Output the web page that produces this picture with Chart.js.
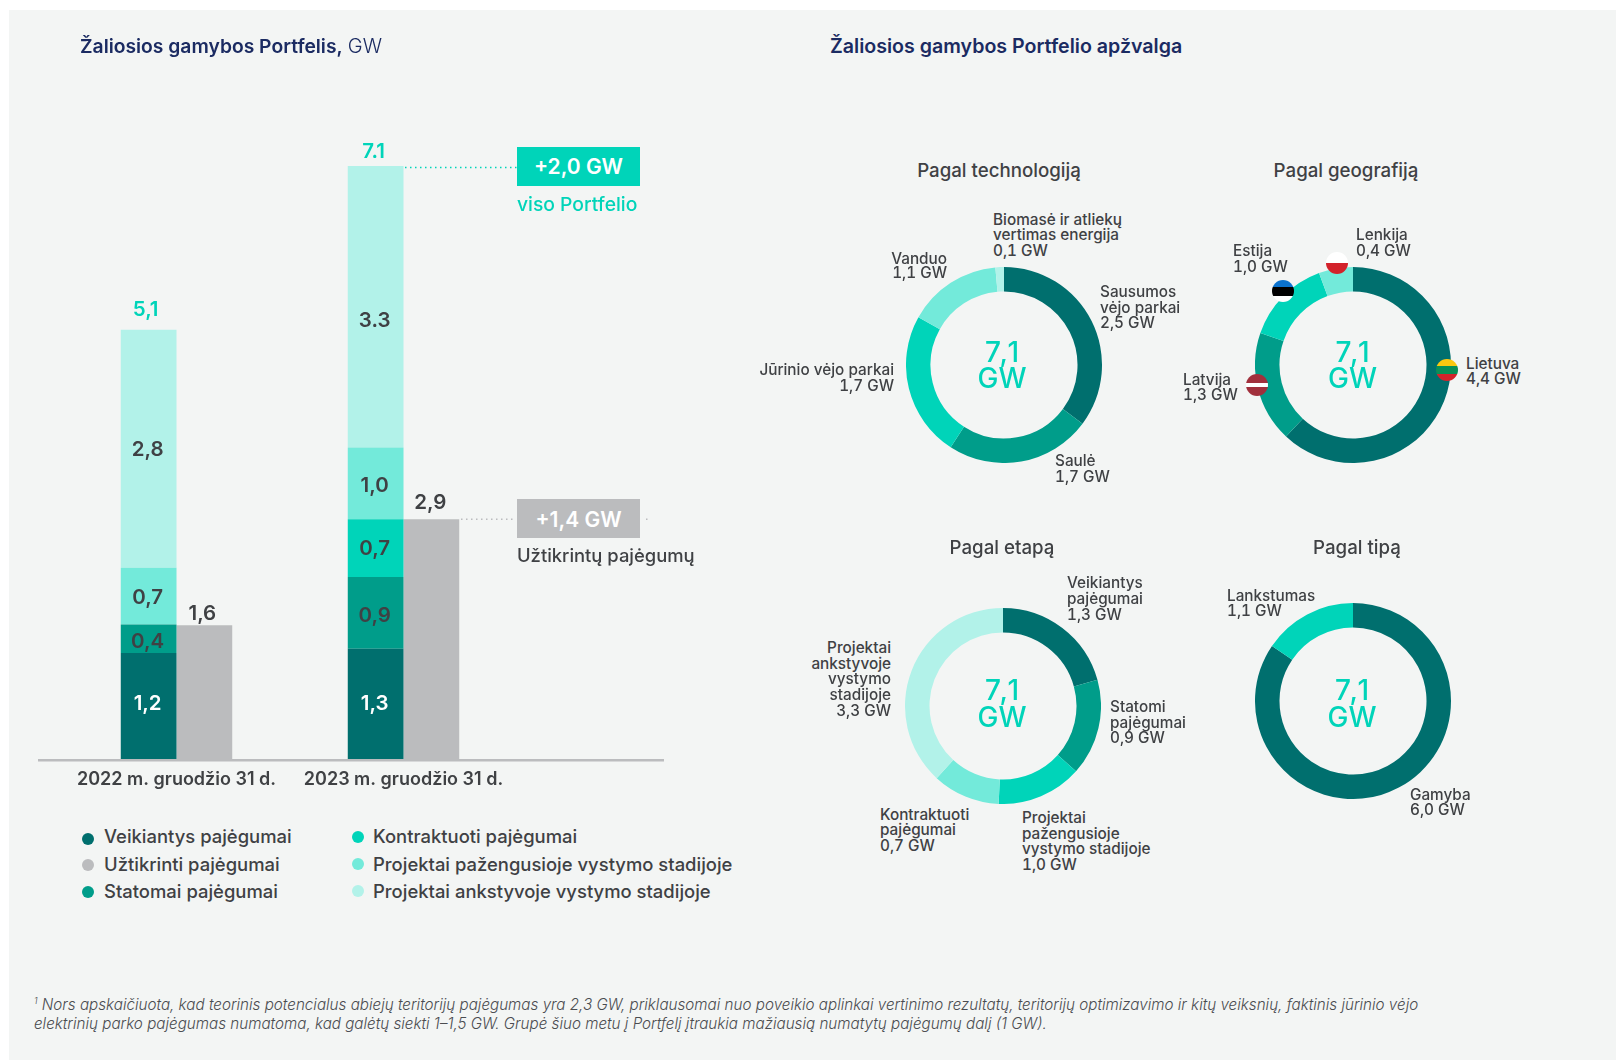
<!DOCTYPE html>
<html lang="lt">
<head>
<meta charset="utf-8">
<title>Žaliosios gamybos Portfelis</title>
<script src="https://cdn.jsdelivr.net/npm/chart.js@4/dist/chart.umd.min.js"></script>
<style>
html,body{margin:0;padding:0;background:#fff;width:1616px;height:1061px;overflow:hidden}
#panel{position:absolute;left:9px;top:10px;width:1607px;height:1050px;background:#F3F5F4}
#stage{position:absolute;left:0;top:0;width:1616px;height:1061px;font-family:Inter,sans-serif;color:#3F4144}
canvas{position:absolute}
.t{position:absolute;white-space:nowrap;line-height:20px;height:20px}
.dot{position:absolute;width:12px;height:12px;border-radius:50%}
.box{position:absolute;display:flex;align-items:center;justify-content:center;color:#fff;font-weight:600;font-size:21px;box-sizing:border-box}
.flag{position:absolute;width:22px;height:22px;border-radius:50%}
sup{font-size:9px;line-height:0}
</style>
</head>
<body>
<div id="panel"></div>
<div id="stage"></div>
<script>
// ---- Bar chart: categories, segment lengths as drawn, and the numbers printed on them
const periods = ["2022 m. gruodžio 31 d.", "2023 m. gruodžio 31 d."];
const seriesNames = ["Veikiantys pajėgumai","Užtikrinti pajėgumai","Statomai pajėgumai","Kontraktuoti pajėgumai","Projektai pažengusioje vystymo stadijoje","Projektai ankstyvoje vystymo stadijoje"];
const operating  = [1.27, 1.32];
const secured    = [1.60, 2.87];
const building   = [0.34, 0.86];
const contracted = [0,    0.69];
const advanced   = [0.68, 0.86];
const early      = [2.85, 3.37];
const operatingLabels  = ["1,2","1,3"];
const securedLabels    = ["1,6","2,9"];
const buildingLabels   = ["0,4","0,9"];
const contractedLabels = ["","0,7"];
const advancedLabels   = ["0,7","1,0"];
const earlyLabels      = ["2,8","3.3"];
const totalLabels      = ["5,1","7.1"];

// ---- Doughnuts
const techNames   = ["Sausumos vėjo parkai","Saulė","Jūrinio vėjo parkai","Vanduo","Biomasė ir atliekų vertimas energija"];
const techValues  = [2.5,1.7,1.7,1.1,0.1];
const geoNames    = ["Lietuva","Latvija","Estija","Lenkija"];
const geoValues   = [4.4,1.3,1.0,0.4];
const stageNames  = ["Veikiantys pajėgumai","Statomi pajėgumai","Projektai pažengusioje vystymo stadijoje","Kontraktuoti pajėgumai","Projektai ankstyvoje vystymo stadijoje"];
const stageValues = [1.47,1.13,1.0,0.79,2.71]; // arc lengths as drawn
const typeNames   = ["Gamyba","Lankstumas"];
const typeValues  = [6.0,1.1];

// ---- Colours
const DARK="#006F6E", MID="#009D8A", TEAL="#00D4B9", LIGHT="#73EADA", PALE="#B2F2E9", GREY="#BBBCBE", NAVY="#1B2B62", INK="#3F4144";
const FONT="Inter, sans-serif";
const stage=document.getElementById("stage");

function text(str,x,y,o={}){
  const d=document.createElement("div");d.className="t";
  d.innerHTML=str;
  d.style.left=x+"px";d.style.top=(y-10)+"px";
  d.style.fontSize=(o.size||15)+"px";
  d.style.fontWeight=o.weight||500;
  d.style.color=o.color||INK;
  if(o.spacing)d.style.letterSpacing=o.spacing+"px";
  if(o.italic)d.style.fontStyle="italic";
  if(o.tnum)d.style.fontFeatureSettings='"tnum"';
  if(o.align==="center")d.style.transform="translateX(-50%)";
  if(o.align==="right")d.style.transform="translateX(-100%)";
  stage.appendChild(d);
}
function lines(arr,x,ys,o){arr.forEach((s,i)=>text(s,x,ys[i],o));}

// ---- Bar chart
const c=document.createElement("canvas");
c.width=760;c.height=800;c.style.left="0px";c.style.top="0px";c.style.width="760px";c.style.height="800px";
stage.appendChild(c);
const labelNudge={ "earlyLabels1":14, "operatingLabels0":-2, "operatingLabels1":0, "buildingLabels0":3, "buildingLabels1":3, "advancedLabels1":2, "advancedLabels0":2, "contractedLabels1":1, "earlyLabels0":1 };
const barPlugin={
  id:"barAnnotations",
  afterDatasetsDraw(ch){
    const g=ch.ctx,y0=ch.scales.y.getPixelForValue(0);
    g.save();
    g.fillStyle=GREY;g.fillRect(38,y0,626,2.5);
    g.lineWidth=1.5;g.setLineDash([1.5,3.5]);
    const yT=ch.scales.y.getPixelForValue(7.1)+1.5;
    g.strokeStyle=TEAL;g.beginPath();g.moveTo(405,yT);g.lineTo(517,yT);g.stroke();
    const yS=ch.scales.y.getPixelForValue(secured[1]);
    g.strokeStyle=GREY;g.beginPath();g.moveTo(461,yS);g.lineTo(515,yS);g.moveTo(646,yS);g.lineTo(648,yS);g.stroke();
    g.setLineDash([]);
    g.textAlign="center";g.textBaseline="middle";
    ch.data.datasets.forEach((ds,i)=>{
      const meta=ch.getDatasetMeta(i);
      meta.data.forEach((el,j)=>{
        const s=ds.printed[j];if(!s)return;
        const p=el.getProps(["x","y","base"],true);
        g.font="600 20.5px "+FONT;
        g.fillStyle=ds.labelColor;
        if(ds.stack==="secured") g.fillText(s,p.x+(j?-1:-2),p.y-(j?16:12));
        else g.fillText(s,p.x-1,(p.y+p.base)/2+(labelNudge[ds.printedKey+j]||0));
        if(ds.printedKey==="earlyLabels"){
          g.fillStyle=TEAL;g.fillText(totalLabels[j],p.x-(j?2:3),p.y-(j?14:20));
        }
      });
    });
    g.restore();
  }
};
function barDs(label,data,color,stackName,printed,key,labelColor){
  return {label,data,backgroundColor:color,stack:stackName,printed,printedKey:key,labelColor,borderWidth:0,categoryPercentage:0.491,barPercentage:1};
}
new Chart(c,{
  type:"bar",
  data:{labels:periods,datasets:[
    barDs(seriesNames[0],operating,DARK,"portfolio",operatingLabels,"operatingLabels","#FFFFFF"),
    barDs(seriesNames[2],building,MID,"portfolio",buildingLabels,"buildingLabels",INK),
    barDs(seriesNames[3],contracted,TEAL,"portfolio",contractedLabels,"contractedLabels",INK),
    barDs(seriesNames[4],advanced,LIGHT,"portfolio",advancedLabels,"advancedLabels",INK),
    barDs(seriesNames[5],early,PALE,"portfolio",earlyLabels,"earlyLabels",INK),
    barDs(seriesNames[1],secured,GREY,"secured",securedLabels,"securedLabels",INK)
  ]},
  options:{
    responsive:false,animation:false,events:[],
    layout:{padding:{left:63,right:243,top:166,bottom:0}},
    plugins:{legend:{display:false},tooltip:{enabled:false}},
    scales:{
      x:{stacked:true,border:{display:false},grid:{display:false,drawTicks:false},
         afterFit(a){a.height=41;},
         ticks:{padding:10,autoSkip:false,maxRotation:0,color:INK,font:{family:FONT,size:18,weight:"600"}}},
      y:{stacked:true,display:false,min:0,max:7.1}
    }
  },
  plugins:[barPlugin]
});

// ---- Doughnuts
function donut(values,colors,cx,cy,R,names){
  const cv=document.createElement("canvas");
  const s=R*2;
  cv.width=s;cv.height=s;cv.style.left=(cx-R)+"px";cv.style.top=(cy-R)+"px";cv.style.width=s+"px";cv.style.height=s+"px";
  stage.appendChild(cv);
  new Chart(cv,{type:"doughnut",
    data:{labels:names,datasets:[{data:values,backgroundColor:colors,borderWidth:0,hoverOffset:0}]},
    options:{responsive:false,animation:false,events:[],cutout:"75%",layout:{padding:0},plugins:{legend:{display:false},tooltip:{enabled:false}}}
  });
}
donut(techValues,[DARK,MID,TEAL,LIGHT,PALE],1003.5,365,98,techNames);
donut(geoValues,[DARK,MID,TEAL,LIGHT],1353,365,98,geoNames);
donut(stageValues,[DARK,MID,TEAL,LIGHT,PALE],1002.5,705.5,98,stageNames);
donut(typeValues,[DARK,TEAL],1353,700.5,98,typeNames);

// ---- Headings
text('<b style="font-weight:600;color:'+NAVY+'">Žaliosios gamybos Portfelis,</b> <span style="font-weight:300;font-size:20px;color:'+NAVY+'">GW</span>',80,45.5,{size:19.3});
text("Žaliosios gamybos Portfelio apžvalga",830,45.5,{size:19.6,weight:600,color:NAVY});

// ---- Call-outs
function box(str,color,x,y,w,h,pad){
  const d=document.createElement("div");d.className="box";d.textContent=str;
  d.style.cssText+=`left:${x}px;top:${y}px;width:${w}px;height:${h}px;background:${color};padding-top:${pad}px`;
  stage.appendChild(d);
}
box("+2,0 GW",TEAL,517,147,123,39,0);
text("viso Portfelio",517,203.5,{size:19.3,color:TEAL});
box("+1,4 GW",GREY,517,499,123,39,1);
text("Užtikrintų pajėgumų",517,555,{size:18.4});

// ---- Legend
const legendCells=[[0,88,839,104,836,DARK],[1,88,865,104,864,GREY],[2,88,892,104,891,MID],[3,358,837,373,836,TEAL],[4,358,864,373,864,LIGHT],[5,358,891,373,891,PALE]];
legendCells.forEach(([i,dx,dy,tx,ty,col])=>{
  const d=document.createElement("div");d.className="dot";d.style.cssText+=`left:${dx-6}px;top:${dy-6}px;background:${col}`;
  stage.appendChild(d);
  text(seriesNames[i],tx,ty,{size:18.45});
});

// ---- Doughnut titles, centres, labels
text("Pagal technologiją",999,171,{size:18.7,align:"center"});
text("Pagal geografiją",1346,171,{size:18.7,align:"center"});
text("Pagal etapą",1002,548,{size:18.7,align:"center"});
text("Pagal tipą",1357,548,{size:18.7,align:"center"});
[[1003,352,378],[1353.5,352,378],[1003,690,717],[1353,690,717]].forEach(([x,a,b])=>{
  text("7,1",x,a,{size:28,color:TEAL,align:"center",spacing:2});
  text("GW",x-1,b,{size:28,color:TEAL,align:"center"});
});
const L={size:15.3,tnum:true};
const R={size:15.3,align:"right",tnum:true};
lines(["Biomasė ir atliekų","vertimas energija","0,1 GW"],993,[220,235,251],L);
lines(["Vanduo","1,1 GW"],947,[259,273],R);
lines(["Sausumos","vėjo parkai","2,5 GW"],1100,[292,308,323],L);
lines(["Jūrinio vėjo parkai","1,7 GW"],894,[370,386],R);
lines(["Saulė","1,7 GW"],1055,[461,477],L);
lines(["Lenkija","0,4 GW"],1356,[235,251],L);
lines(["Estija","1,0 GW"],1233,[251,267],L);
lines(["Latvija","1,3 GW"],1183,[380,395],L);
lines(["Lietuva","4,4 GW"],1466,[364,379],L);
lines(["Veikiantys","pajėgumai","1,3 GW"],1067,[583,599,615],L);
lines(["Statomi","pajėgumai","0,9 GW"],1110,[707,723,738],L);
lines(["Projektai","pažengusioje","vystymo stadijoje","1,0 GW"],1022,[818,834,849,865],L);
lines(["Kontraktuoti","pajėgumai","0,7 GW"],880,[815,830,846],L);
lines(["Projektai","ankstyvoje","vystymo","stadijoje","3,3 GW"],891,[648,664,679,695,711],R);
lines(["Lankstumas","1,1 GW"],1227,[596,611],L);
lines(["Gamyba","6,0 GW"],1410,[795,810],L);

// ---- Flags
[[1446.7,370,"linear-gradient(#FDC80F 0 33%,#0A8F57 33% 67%,#D4232B 67%)"],
 [1256.7,385.3,"linear-gradient(#A1303C 0 39%,#fff 39% 61%,#A1303C 61%)"],
 [1283,291,"linear-gradient(#0B72CE 0 30%,#000 30% 75%,#fff 75%)"],
 [1337.3,263.3,"linear-gradient(#fff 0 50%,#D3222B 50%)"]].forEach(([x,y,bg])=>{
  const d=document.createElement("div");d.className="flag";d.style.cssText+=`left:${x-11}px;top:${y-11}px;background:${bg}`;
  stage.appendChild(d);
});

// ---- Footnote
const note={size:15.2,weight:300,italic:true,color:"#4A4C50"};
text("<sup>1</sup> Nors apskaičiuota, kad teorinis potencialus abiejų teritorijų pajėgumas yra 2,3 GW, priklausomai nuo poveikio aplinkai vertinimo rezultatų, teritorijų optimizavimo ir kitų veiksnių, faktinis jūrinio vėjo",34,1005,note);
text("elektrinių parko pajėgumas numatoma, kad galėtų siekti 1–1,5 GW. Grupė šiuo metu į Portfelį įtraukia mažiausią numatytų pajėgumų dalį (1 GW).",34,1024,note);
</script>
</body>
</html>
